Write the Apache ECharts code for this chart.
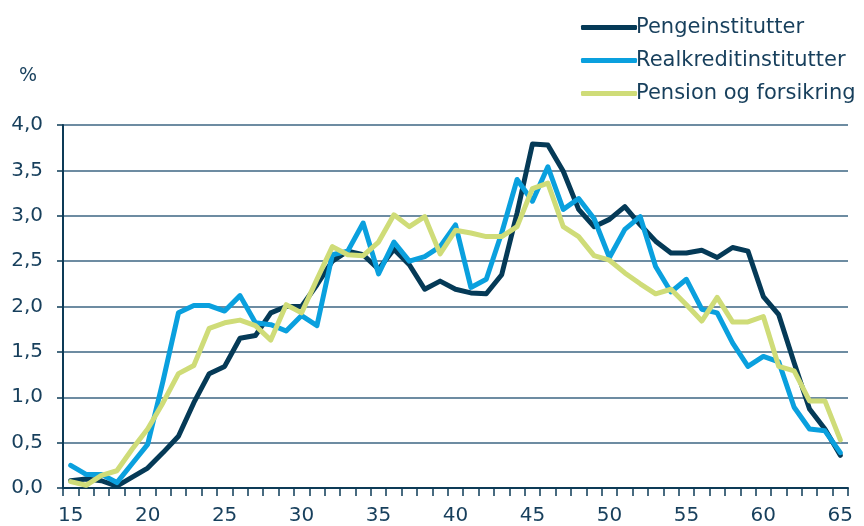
<!DOCTYPE html>
<html>
<head>
<meta charset="utf-8">
<script src="https://cdn.jsdelivr.net/npm/echarts@6/dist/echarts.min.js"></script>
<style>
  html, body { margin: 0; padding: 0; background: #fff; }
</style>
</head>
<body>
<!-- container for the chart -->
<div id="container" style="width: 864px; height: 526px"></div>

<script>
// ages 15..65
const ages = []
for (let a = 15; a <= 65; a++) ages.push(String(a))

// series names
const names = ['Pengeinstitutter', 'Realkreditinstitutter', 'Pension og forsikring']

// Pengeinstitutter, %
const penge = [
  0.08, 0.10, 0.08, 0.02, 0.12, 0.22, 0.39, 0.57, 0.94, 1.26,
  1.34, 1.65, 1.68, 1.93, 2.00, 2.00, 2.24, 2.50, 2.61, 2.57,
  2.41, 2.63, 2.46, 2.19, 2.28, 2.19, 2.15, 2.14, 2.35, 3.03,
  3.79, 3.78, 3.49, 3.07, 2.88, 2.96, 3.10, 2.90, 2.72, 2.59,
  2.59, 2.62, 2.54, 2.65, 2.61, 2.11, 1.91, 1.38, 0.87, 0.65,
  0.36
]

// Realkreditinstitutter, %
const realkredit = [
  0.25, 0.15, 0.15, 0.06, 0.27, 0.48, 1.18, 1.93, 2.01, 2.01,
  1.95, 2.12, 1.82, 1.80, 1.73, 1.90, 1.79, 2.57, 2.61, 2.92,
  2.36, 2.71, 2.50, 2.55, 2.66, 2.90, 2.21, 2.30, 2.81, 3.40,
  3.16, 3.54, 3.07, 3.19, 2.97, 2.54, 2.85, 2.99, 2.44, 2.16,
  2.30, 1.97, 1.93, 1.60, 1.34, 1.45, 1.39, 0.89, 0.65, 0.63,
  0.39
]

// Pension og forsikring, %
const pension = [
  0.07, 0.03, 0.14, 0.19, 0.43, 0.65, 0.94, 1.26, 1.35, 1.76,
  1.82, 1.85, 1.79, 1.63, 2.02, 1.93, 2.30, 2.66, 2.57, 2.56,
  2.71, 3.01, 2.88, 2.99, 2.58, 2.84, 2.81, 2.77, 2.77, 2.88,
  3.30, 3.36, 2.88, 2.77, 2.56, 2.51, 2.37, 2.25, 2.14, 2.19,
  2.02, 1.84, 2.10, 1.83, 1.83, 1.89, 1.34, 1.29, 0.96, 0.96,
  0.53
]

const colors = ['#053a57', '#0aa0de', '#cfdc78']
const textColor = '#173f5c'
const font = 'DejaVu Sans, Verdana, sans-serif'

var myChart = echarts.init(document.getElementById('container'))

function lineSeries (name, data, color) {
  return {
    name: name,
    type: 'line',
    data: data,
    showSymbol: false,
    symbol: 'none',
    color: color,
    lineStyle: { width: 5, color: color, cap: 'round', join: 'round' }
  }
}

const option = {
  animation: false,
  textStyle: { fontFamily: font },
  grid: { left: 63, right: 16, top: 125, bottom: 37 },
  legend: {
    orient: 'vertical',
    left: 576,
    top: 12,
    itemWidth: 56,
    itemHeight: 5,
    itemGap: 12,
    icon: 'roundRect',
    textStyle: { color: textColor, fontSize: 21, fontFamily: font, padding: [0, 0, 0, -6] },
    data: names
  },
  graphic: [
    {
      type: 'text',
      left: 19,
      top: 67,
      style: { text: '%', fill: textColor, font: '19px ' + font }
    }
  ],
  xAxis: {
    type: 'category',
    data: ages,
    boundaryGap: true,
    axisLine: { lineStyle: { color: '#0d3b57', width: 2 } },
    axisTick: { show: true, interval: 0, length: 8, lineStyle: { color: '#0d3b57', width: 1.5 } },
    axisLabel: { interval: 4, color: textColor, fontSize: 20, fontFamily: font, margin: 18 },
    splitLine: { show: false }
  },
  yAxis: {
    type: 'value',
    min: 0,
    max: 4,
    interval: 0.5,
    axisLine: { show: true, lineStyle: { color: '#0d3b57', width: 2 } },
    axisTick: { show: true, length: 6, lineStyle: { color: '#0d3b57', width: 1.5 } },
    axisLabel: {
      color: textColor,
      fontSize: 20,
      fontFamily: font,
      margin: 20,
      formatter: (v) => v.toFixed(1).replace('.', ',')
    },
    splitLine: { lineStyle: { color: '#3d6683', width: 1.5 } }
  },
  series: [
    lineSeries(names[0], penge, colors[0]),
    lineSeries(names[1], realkredit, colors[1]),
    lineSeries(names[2], pension, colors[2])
  ]
}

myChart.setOption(option)
</script>
</body>
</html>
